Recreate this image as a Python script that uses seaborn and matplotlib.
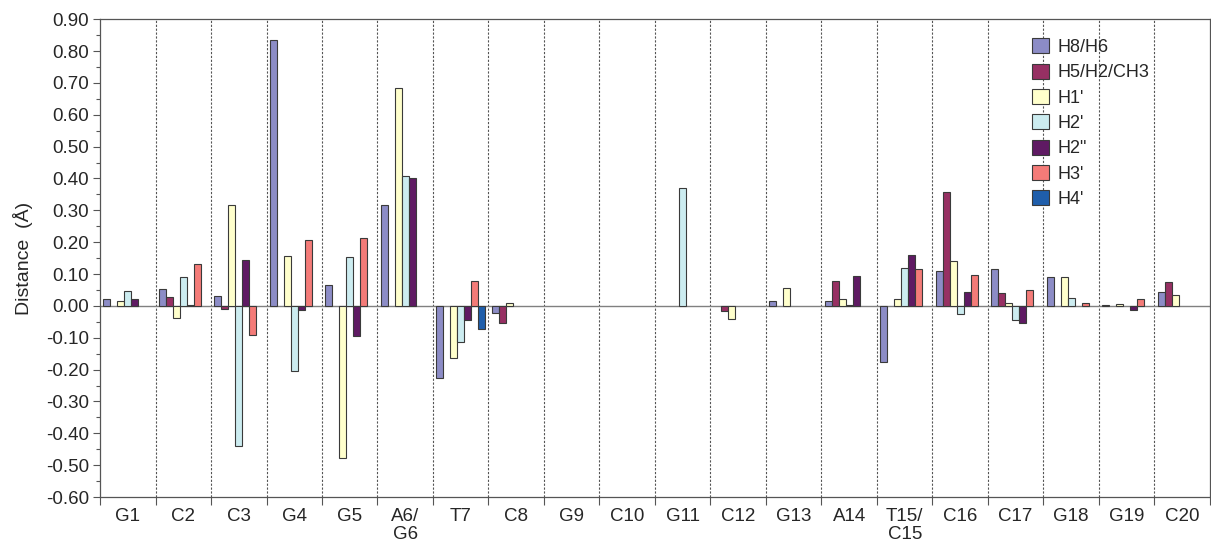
import numpy as np
import pandas as pd
import matplotlib
matplotlib.use("Agg")
import matplotlib.pyplot as plt
import seaborn as sns
from matplotlib.patches import Patch
from matplotlib.ticker import MultipleLocator, FixedLocator, FuncFormatter

categories = ["G1", "C2", "C3", "G4", "G5", "A6/\nG6", "T7", "C8", "G9", "C10",
              "G11", "C12", "G13", "A14", "T15/\nC15", "C16", "C17", "G18", "G19", "C20"]
series = ["H8/H6", "H5/H2/CH3", "H1'", "H2'", "H2\"", "H3'", "H4'"]
nan = np.nan
h8_h6   = [0.022, 0.052, 0.032, 0.836, 0.065, 0.317, -0.225, -0.021, nan, nan,
           nan, nan, 0.016, 0.016, -0.176, 0.108, 0.116, 0.092, 0.004, 0.045]
h5_h2   = [nan, 0.029, -0.011, nan, nan, nan, nan, -0.055, nan, nan,
           nan, -0.017, nan, 0.079, nan, 0.357, 0.041, nan, nan, 0.075]
h1p     = [0.016, -0.039, 0.316, 0.155, -0.478, 0.685, -0.163, 0.010, nan, nan,
           nan, -0.042, 0.056, 0.022, 0.022, 0.141, 0.009, 0.092, 0.006, 0.035]
h2p     = [0.047, 0.090, -0.441, -0.203, 0.154, 0.408, -0.112, nan, nan, nan,
           0.370, nan, nan, 0.003, 0.119, -0.025, -0.043, 0.026, nan, nan]
h2pp    = [0.020, 0.004, 0.143, -0.014, -0.096, 0.400, -0.044, nan, nan, nan,
           nan, nan, nan, 0.095, 0.160, 0.043, -0.054, nan, -0.013, nan]
h3p     = [nan, 0.132, -0.092, 0.207, 0.212, nan, 0.077, nan, nan, nan,
           nan, nan, nan, nan, 0.116, 0.096, 0.049, 0.009, 0.022, nan]
h4p     = [nan, nan, nan, nan, nan, nan, -0.073, nan, nan, nan,
           nan, nan, nan, nan, nan, nan, nan, nan, nan, nan]
colors = ["#8C8CC6", "#973063", "#FFFFCC", "#CCECF0", "#5F1A63", "#F47B78", "#1F5EAB"]

values = [h8_h6, h5_h2, h1p, h2p, h2pp, h3p, h4p]
rows = []
for s, vals in zip(series, values):
    for c, v in zip(categories, vals):
        rows.append({"residue": c, "proton": s, "dist": v})
df = pd.DataFrame(rows)

sns.set_style("white")
plt.rcParams['font.family'] = ['Liberation Sans', 'DejaVu Sans']

fig = plt.figure(figsize=(12.11, 5.47), dpi=100)
ax = fig.add_axes([0.0826, 0.0914, 0.9165, 0.8736])

sns.barplot(data=df.dropna(), x="residue", y="dist", hue="proton", order=categories,
            hue_order=series, palette=colors, width=0.88, edgecolor="#3a3a3a",
            linewidth=0.8, saturation=1, ax=ax, legend=False, errorbar=None)

ax.set_xlim(-0.5, len(categories) - 0.5)
ax.set_ylim(-0.60, 0.90)
ax.axhline(0, color="#808080", lw=1.0, zorder=0.5)
for i in range(1, len(categories)):
    ax.axvline(i - 0.5, color="#555555", lw=0.8, ls=(0, (2, 1.5)), zorder=0.4)

ax.yaxis.set_major_locator(MultipleLocator(0.1))
ax.yaxis.set_minor_locator(MultipleLocator(0.05))
ax.yaxis.set_major_formatter(FuncFormatter(lambda v, p: f"{v:.2f}"))
ax.tick_params(axis="y", which="major", direction="out", length=5, width=0.8,
               color="#555555", labelsize=13.5, left=True, pad=3)
ax.tick_params(axis="y", which="minor", direction="out", length=3, width=0.8,
               color="#555555", left=True)
ax.set_xticks(range(len(categories)))
ax.set_xticklabels(categories, fontsize=13.5, linespacing=1.1, va="top")
ax.tick_params(axis="x", which="major", length=0, pad=8)
ax.xaxis.set_minor_locator(FixedLocator(np.arange(-0.5, len(categories), 1.0)))
ax.tick_params(axis="x", which="minor", direction="out", length=6, width=0.8,
               color="#555555", bottom=True)

for sp in ax.spines.values():
    sp.set_color("#555555")
    sp.set_linewidth(0.9)
    sp.set_visible(True)

ax.set_xlabel("")
ax.set_ylabel("Distance  (Å)", fontsize=14, labelpad=9)

handles = [Patch(facecolor=c, edgecolor="#3a3a3a", linewidth=0.8, label=s)
           for s, c in zip(series, colors)]
ax.legend(handles=handles, loc="upper left", bbox_to_anchor=(0.833, 0.975),
          frameon=False, fontsize=13, handlelength=0.95, handleheight=0.9,
          labelspacing=0.42, handletextpad=0.5, borderaxespad=0)

fig.savefig("out.png", dpi=100)
